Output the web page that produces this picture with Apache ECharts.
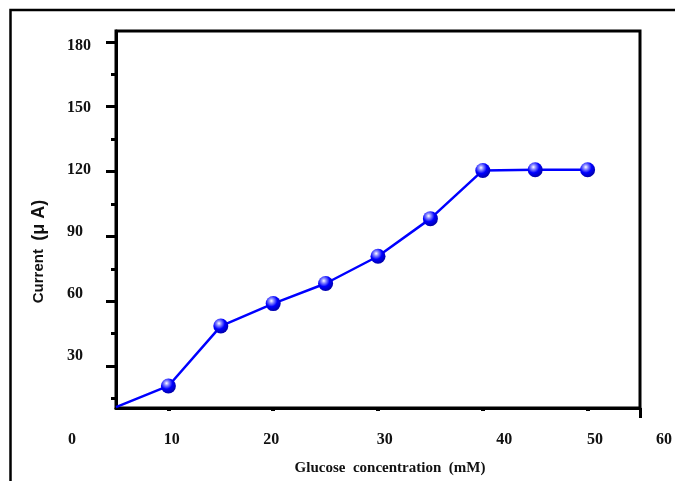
<!DOCTYPE html>
<html>
<head>
<meta charset="utf-8">
<title>Glucose response</title>
<script src="https://cdn.jsdelivr.net/npm/echarts@6/dist/echarts.min.js"></script>
<style>
  html, body { margin: 0; padding: 0; background: #fff; }
  #chart { width: 675px; height: 481px; }
</style>
</head>
<body>
<div id="chart"></div>
<script type="text/javascript">
// glucose concentration (mM) and current (uA)
var conc    = [5, 10, 15, 20, 25, 30, 35, 40, 45, 50];
var current = [11, 20.8, 48.5, 58.9, 68.2, 80.8, 98.2, 120.5, 120.8, 120.8];

// printed tick labels (they do not sit under the ticks in the original)
var xTickLabels = ['0', '10', '20', '30', '40', '50', '60'];
var xLabelAt    = [0, 10.1, 20.2, 31.7, 43.8, 53, 60];
var yTickLabels = [30, 60, 90, 120, 150, 180];

var serif = '"Liberation Serif", "Times New Roman", serif';
var sans  = '"Liberation Sans", Arial, sans-serif';

var ball = {
    type: 'radial', x: 0.38, y: 0.32, r: 0.7,
    colorStops: [
        { offset: 0,    color: '#ffffff' },
        { offset: 0.22, color: '#8c8cff' },
        { offset: 0.55, color: '#0000ff' },
        { offset: 1,    color: '#0000a8' }
    ]
};

var pts = [];
for (var i = 0; i < conc.length; i++) {
    var p = { value: [conc[i], current[i]] };
    if (i == 0) p.symbol = 'none';
    pts.push(p);
}

var chart = echarts.init(document.getElementById('chart'));
var option = {
    animation: false,
    backgroundColor: '#fff',
    graphic: [{
        type: 'rect',
        shape: { x: 10.5, y: 10, width: 800, height: 600 },
        style: { fill: 'none', stroke: '#000', lineWidth: 2.5 },
        silent: true
    }],
    grid: [
        // plot box
        { left: 116, right: 35, top: 31, bottom: 73, show: true, borderColor: '#000', borderWidth: 3 },
        // grid that only carries the printed tick labels
        { left: 72, right: 10, top: 46, bottom: 125 }
    ],
    xAxis: [
        {
            gridIndex: 0, type: 'value', min: 5, max: 55, position: 'bottom',
            axisLine: { lineStyle: { color: '#000', width: 3 } },
            axisTick: { customValues: [10, 20, 30, 40, 50], length: 3, lineStyle: { color: '#000', width: 4 } },
            axisLabel: { show: false },
            splitLine: { show: false },
            name: 'Glucose  concentration  (mM)',
            nameLocation: 'middle', nameGap: 53,
            nameTextStyle: { fontFamily: serif, fontWeight: 'bold', fontSize: 15, color: '#111', padding: [0, 0, 0, 24] }
        },
        {
            gridIndex: 0, type: 'value', min: 5, max: 55, position: 'bottom',
            axisLine: { show: false },
            axisTick: { customValues: [55], length: 10, lineStyle: { color: '#000', width: 3 } },
            axisLabel: { show: false },
            splitLine: { show: false }
        },
        {
            gridIndex: 1, type: 'value', min: 0, max: 60, position: 'bottom',
            axisLine: { show: false },
            axisTick: { show: false },
            splitLine: { show: false },
            axisLabel: {
                customValues: xLabelAt, showMinLabel: true, showMaxLabel: true,
                margin: 76, fontFamily: serif, fontWeight: 'bold', fontSize: 16, color: '#111',
                formatter: function (v) { return xTickLabels[xLabelAt.indexOf(v)]; }
            }
        }
    ],
    yAxis: [
        {
            gridIndex: 0, type: 'value', min: 10.6, max: 185, position: 'left',
            axisLine: { show: true, lineStyle: { color: '#000', width: 3 } },
            axisTick: { customValues: [15, 45, 75, 105, 135, 165], length: 5, lineStyle: { color: '#000', width: 3 } },
            axisLabel: { show: false },
            splitLine: { show: false },
            name: '{a|Current  }{b|(μ A)}',
            nameLocation: 'middle', nameGap: 68,
            nameTextStyle: {
                padding: [0, 64, 0, 0],
                rich: {
                    a: { fontFamily: sans, fontWeight: 'bold', fontSize: 15, color: '#111' },
                    b: { fontFamily: sans, fontWeight: 'bold', fontSize: 18, color: '#111' }
                }
            }
        },
        {
            gridIndex: 0, type: 'value', min: 10.6, max: 185, position: 'left',
            axisLine: { show: false },
            axisTick: { customValues: [30, 60, 90, 120, 150, 180], length: 10, lineStyle: { color: '#000', width: 3 } },
            axisLabel: { show: false },
            splitLine: { show: false }
        },
        {
            gridIndex: 1, type: 'value', min: 30, max: 180, interval: 30, position: 'left',
            axisLine: { show: false },
            axisTick: { show: false },
            splitLine: { show: false },
            axisLabel: {
                customValues: yTickLabels, showMinLabel: true, showMaxLabel: true,
                align: 'left', margin: 5,
                fontFamily: serif, fontWeight: 'bold', fontSize: 16, color: '#111'
            }
        }
    ],
    series: [{
        type: 'line',
        xAxisIndex: 0, yAxisIndex: 0,
        data: pts,
        symbol: 'circle', symbolSize: 15,
        showAllSymbol: true,
        lineStyle: { color: '#0000ff', width: 2.5 },
        itemStyle: { color: ball, borderWidth: 0 },
        z: 5
    }]
};
chart.setOption(option);
</script>
</body>
</html>
